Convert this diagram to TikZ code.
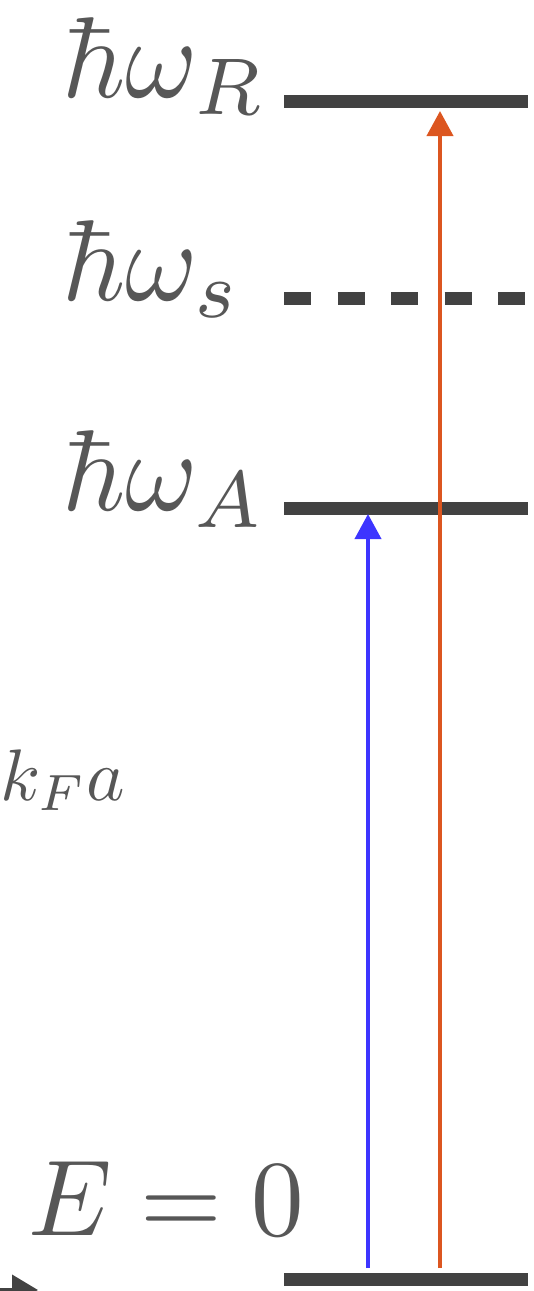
\documentclass[tikz,border=0pt]{standalone}
\usepackage{graphicx}
\usetikzlibrary{arrows.meta}
\definecolor{lvl}{HTML}{424242}
\definecolor{lbl}{HTML}{575757}
\definecolor{bluearr}{HTML}{3D35FF}
\definecolor{orarr}{HTML}{DC5620}
\tikzset{
  level/.style={draw=lvl, line width=13pt},
  dlevel/.style={draw=lvl, line width=13pt, dash pattern=on 27pt off 26.5pt},
  lab/.style={text=lbl, inner sep=0pt, anchor=base west},
  trans/.style={line width=4pt, -{Triangle[width=26pt,length=25pt]}},
}
\begin{document}
\begin{tikzpicture}[x=1pt,y=-1pt]
\useasboundingbox (0,0) rectangle (534,1291);
\clip (0,0) rectangle (534,1291);
% levels
\coordinate (R1) at (284,101);  \coordinate (R2) at (528,101);
\coordinate (S1) at (284,298);  \coordinate (S2) at (528,298);
\coordinate (A1) at (284,508);  \coordinate (A2) at (528,508);
\coordinate (G1) at (284,1279); \coordinate (G2) at (528,1279);
\draw[level] (R1) -- (R2);
\draw[dlevel] (S1) -- (S2);
\draw[level] (A1) -- (A2);
\draw[level] (G1) -- (G2);
% labels
\node[lab] (lR) at (62,97) {\scalebox{11}[11.5]{$\hbar\omega_R$}};
\node[lab] (lS) at (62,300) {\scalebox{11}[11.5]{$\hbar\omega_s$}};
\node[lab] (lA) at (62,510) {\scalebox{11}[11.5]{$\hbar\omega_A$}};
\node[lab] (lE) at (28,1235) {\scalebox{10.5}[10.8]{$E=0$}};
\node[lab] (lk) at (0,800) {\scalebox{7.3}{$k_Fa$}};
% transitions
\coordinate (b0) at (368,1268); \coordinate (b1) at (368,514);
\coordinate (o0) at (440,1268); \coordinate (o1) at (440,111);
\draw[trans, draw=orarr, fill=orarr] (o0) -- (o1);
\draw[trans, draw=bluearr, fill=bluearr] (b0) -- (b1);
% cropped fragments at bottom left
\coordinate (f0) at (-10,1290); \coordinate (f1) at (38,1290);
\draw[line width=4pt, draw=lvl, -{Triangle[width=30pt,length=26pt]}] (f0) -- (f1);
\coordinate (g0) at (-5,1293); \coordinate (g1) at (30,1293);
\draw[line width=3pt, draw=orarr] (g0) -- (g1);
\end{tikzpicture}
\end{document}
